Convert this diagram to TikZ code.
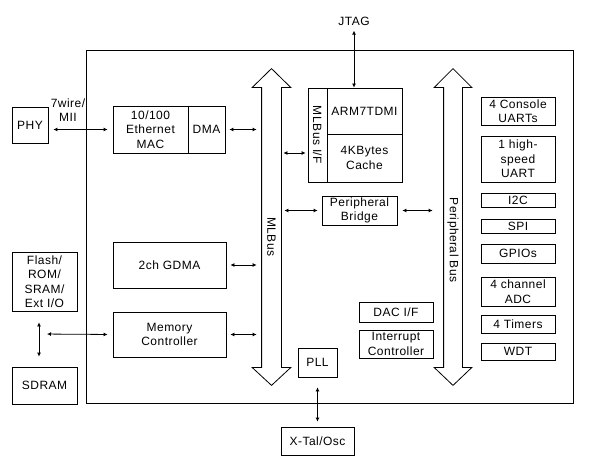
\documentclass[tikz,border=0pt]{standalone}
\usepackage{fontspec}
\setmainfont{Liberation Sans}[LetterSpace=4]
\usetikzlibrary{calc,arrows.meta}
\tikzset{%
  bbox/.style={draw,shape=rectangle,inner sep=0,align=center},
  bbar/.style={shape=rectangle,inner sep=0,minimum width=19,minimum height=279},
  link/.style={<->,>={Latex[length=4pt,width=4pt]}},
  vtext/.style={rotate=-90,inner sep=0}
}
\begin{document}
\begin{tikzpicture}[x=1pt,y=1pt,line width=0.8pt,font=\fontsize{12}{14.5}\selectfont]
  \useasboundingbox (0,0) rectangle (599,466);
  % chip outline
  \draw (86,63) rectangle (573,416);

  % outside the chip
  \node[bbox,minimum width=36,minimum height=36] (phy) at (30,341) {PHY};
  \node[align=center,inner sep=0] (mii) at (68,356) {7wire/\\MII};
  \node[bbox,minimum width=65,minimum height=59] (flash) at (44.5,184.5) {Flash/\\ROM/\\SRAM/\\Ext I/O};
  \node[bbox,minimum width=65,minimum height=37] (sdram) at (44.5,80.5) {SDRAM};
  \node[bbox,minimum width=73,minimum height=28] (xtal) at (317.5,25) {X-Tal/Osc};
  \node[inner sep=0] (jtag) at (354,445) {JTAG};
  \coordinate (ebus) at (39,132);

  % left blocks
  \node[bbox,minimum width=75,minimum height=47] (mac) at (150.5,336.5) {10/100\\Ethernet\\MAC};
  \node[bbox,minimum width=37,minimum height=47] (dma) at (206.5,336.5) {DMA};
  \node[bbox,minimum width=113,minimum height=46] (gdma) at (169.5,201) {2ch GDMA};
  \node[bbox,minimum width=113,minimum height=45] (memc) at (169.5,131.5) {Memory\\Controller};

  % core
  \node[bbox,minimum width=75,minimum height=46] (cpu) at (364.5,355) {ARM7TDMI};
  \node[bbox,minimum width=75,minimum height=48] (cache) at (364.5,308) {4KBytes\\Cache};
  \node[bbox,minimum width=19,minimum height=94] (mlif) at (317.5,331) {};
  \node[vtext] (mliflbl) at (mlif) {MLBus I/F};
  \node[bbox,minimum width=75,minimum height=29] (bridge) at (359.5,255.5) {Peripheral\\Bridge};
  \node[bbox,minimum width=39,minimum height=29] (pll) at (317.5,103.5) {PLL};
  \node[bbox,minimum width=74,minimum height=20] (dac) at (396,154) {DAC I/F};
  \node[bbox,minimum width=74,minimum height=28] (intc) at (396,122) {Interrupt\\Controller};

  % peripherals
  \node[bbox,minimum width=74,minimum height=28] (uart) at (518,355) {4 Console\\UARTs};
  \node[bbox,minimum width=74,minimum height=46] (hsuart) at (518,307) {1 high-\\speed\\UART};
  \node[bbox,minimum width=74,minimum height=14] (iic) at (518,266) {I2C};
  \node[bbox,minimum width=74,minimum height=14] (spi) at (518,240) {SPI};
  \node[bbox,minimum width=74,minimum height=19] (gpio) at (518,212.5) {GPIOs};
  \node[bbox,minimum width=74,minimum height=29] (adc) at (518,174.5) {4 channel\\ADC};
  \node[bbox,minimum width=74,minimum height=18] (timer) at (518,142) {4 Timers};
  \node[bbox,minimum width=74,minimum height=17] (wdt) at (518,114.5) {WDT};

  % buses
  \node[bbar] (mlbus) at (271.5,238.5) {};
  \node[bbar,minimum width=18] (pbus) at (453,238.5) {};
  \foreach \b in {mlbus,pbus}
    \draw (\b.north west) -- ++(-9.5,0) -- ($(\b.north)+(0,19)$) -- ($(\b.north east)+(9.5,0)$)
      -- (\b.north east) -- (\b.south east) -- ++(9.5,0) -- ($(\b.south)+(0,-18)$)
      -- ($(\b.south west)+(-9.5,0)$) -- (\b.south west) -- cycle;
  \node[vtext] (mllbl) at (271.5,229) {MLBus};
  \node[vtext] (plbl) at (453,226) {Peripheral Bus};

  \draw[link,shorten <=5pt,shorten >=5pt] (mac.west -| phy.east) -- (mac.west);
  \draw[link,shorten <=4pt,shorten >=5pt] (dma.east) -- (dma.east -| mlbus.west);
  \draw[link,shorten <=4pt,shorten >=5pt] (gdma.east) -- (gdma.east -| mlbus.west);
  \draw[link,shorten <=4pt,shorten >=5pt] (memc.east) -- (memc.east -| mlbus.west);
  \draw[link,shorten <=2pt,shorten >=2pt] (mlbus.east |- 0,313) -- (mlif.west |- 0,313);
  \draw[link,shorten <=3pt,shorten >=4pt] (bridge.west -| mlbus.east) -- (bridge.west);
  \draw[link,shorten <=5pt,shorten >=11pt] (bridge.east) -- (bridge.east -| pbus.west);
  \draw[link,shorten <=5pt] (jtag.south) -- (jtag.south |- cpu.north);
  \draw[link,shorten <=11pt,shorten >=10pt] ([xshift=-5.5pt]flash.south) -- ([xshift=-5.5pt]sdram.north);
  \draw[link,shorten <=8pt,shorten >=5pt] (ebus) -- (memc.west);
  \draw[link,shorten <=10pt,shorten >=5pt] (pll.south) -- (xtal.north);
\end{tikzpicture}
\end{document}
